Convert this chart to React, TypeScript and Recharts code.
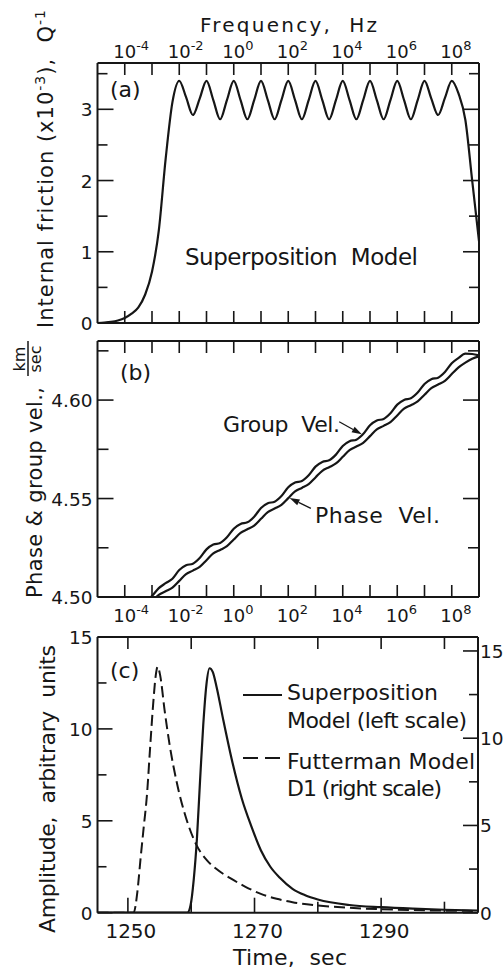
import React from 'react';
import { LineChart, Line, XAxis, YAxis, ReferenceLine } from 'recharts';

const FONT = '"DejaVu Sans", "Liberation Sans", sans-serif';
const INK = '#161616';

// (a) internal friction vs log10(frequency / Hz)
const qLogFreq = [
  -5, -4.75, -4.5, -4.25, -4, -3.75, -3.5, -3.25, -3, -2.75, -2.5, -2.25, -2, -1.75, -1.5, -1.25,
  -1, -0.75, -0.5, -0.25, 0, 0.25, 0.5, 0.75, 1, 1.25, 1.5, 1.75, 2, 2.25, 2.5, 2.75, 3, 3.25,
  3.5, 3.75, 4, 4.25, 4.5, 4.75, 5, 5.25, 5.5, 5.75, 6, 6.25, 6.5, 6.75, 7, 7.25, 7.5, 7.75, 8,
  8.25, 8.5, 8.75, 9,
];
const qFriction = [
  0, 0.005, 0.015, 0.035, 0.07, 0.13, 0.22, 0.4, 0.72, 1.3, 2.3, 3.1, 3.4, 3.17, 2.92, 3.15,
  3.4, 3.13, 2.86, 3.13, 3.4, 3.13, 2.86, 3.13, 3.4, 3.13, 2.86, 3.13, 3.4, 3.13, 2.86, 3.13, 3.4, 3.13,
  2.86, 3.13, 3.4, 3.13, 2.86, 3.13, 3.4, 3.13, 2.86, 3.13, 3.4, 3.13, 2.86, 3.13, 3.4, 3.15, 2.92, 3.16, 3.4,
  3.22, 2.85, 2.0, 1.15,
];

// (b) phase and group velocity, km/sec
const velLogFreq = [
  -3.5, -3.25, -3, -2.75, -2.5, -2.25, -2, -1.75, -1.5, -1.25, -1, -0.75, -0.5, -0.25, 0, 0.25,
  0.5, 0.75, 1, 1.25, 1.5, 1.75, 2, 2.25, 2.5, 2.75, 3, 3.25, 3.5, 3.75, 4, 4.25, 4.5, 4.75, 5,
  5.25, 5.5, 5.75, 6, 6.25, 6.5, 6.75, 7, 7.25, 7.5, 7.75, 8, 8.25, 8.5, 8.75, 9,
];
const phaseVel = [
  4.4924, 4.495, 4.498, 4.5011, 4.5029, 4.5048, 4.5082, 4.5116, 4.5134, 4.5153, 4.5187, 4.5221,
  4.5239, 4.5258, 4.5292, 4.5326, 4.5344, 4.5363, 4.5397, 4.5431, 4.5449, 4.5468, 4.5502, 4.5536,
  4.5554, 4.5573, 4.5607, 4.5641, 4.5659, 4.5678, 4.5712, 4.5746, 4.5764, 4.5783, 4.5817, 4.5851,
  4.5869, 4.5888, 4.5922, 4.5956, 4.5974, 4.5993, 4.6027, 4.6061, 4.6079, 4.6098, 4.6132, 4.6166,
  4.619, 4.621, 4.6222,
];
const groupVel = [
  4.495, 4.4975, 4.5005, 4.5045, 4.507, 4.5093, 4.5137, 4.5161, 4.5169, 4.5198, 4.5242, 4.5266,
  4.5274, 4.5303, 4.5347, 4.5371, 4.5379, 4.5408, 4.5452, 4.5476, 4.5484, 4.5513, 4.5557, 4.5581,
  4.5589, 4.5618, 4.5662, 4.5686, 4.5694, 4.5723, 4.5767, 4.5791, 4.5799, 4.5828, 4.5872, 4.5896,
  4.5904, 4.5933, 4.5977, 4.6001, 4.6009, 4.6038, 4.6082, 4.6106, 4.6114, 4.6143, 4.6187, 4.6214,
  4.6236, 4.6234, 4.6227,
];

// (c) pulses, time in sec
const superTime = [
  1245.2, 1259.4, 1259.9, 1260.4, 1260.9, 1261.4, 1261.9, 1262.4, 1262.9, 1263.4, 1264, 1265,
  1266.5, 1268, 1269.5, 1271, 1272.5, 1274, 1276, 1278, 1280, 1285, 1290, 1295, 1300, 1305.3,
];
const superAmp = [
  0, 0, 0.4, 1.8, 4.0, 7.2, 10.2, 12.4, 13.3, 13.1, 12.3, 10.6,
  8.2, 6.2, 4.7, 3.4, 2.5, 1.9, 1.3, 0.95, 0.72, 0.42, 0.3, 0.22, 0.16, 0.12,
];
const futtTime = [
  1245.2, 1250.9, 1251.5, 1252, 1252.5, 1253, 1253.5, 1254, 1254.4, 1254.7, 1255.1, 1255.8,
  1256.6, 1257.7, 1259.3, 1260.8, 1262.5, 1264, 1266.3, 1268.5, 1271, 1273.5, 1276, 1280, 1285,
  1290, 1295, 1300, 1305.3,
];
const futtAmp = [
  0, 0, 1.2, 3.1, 4.9, 6.7, 9.4, 12.0, 13.6, 14.1, 13.6, 11.6,
  9.6, 7.5, 5.3, 3.9, 3.0, 2.5, 1.95, 1.5, 1.08, 0.8, 0.6, 0.42, 0.28,
  0.2, 0.15, 0.12, 0.1,
];

const decadeTicks = [-4, -3, -2, -1, 0, 1, 2, 3, 4, 5, 6, 7, 8];
const decadeLabels = [-4, -2, 0, 2, 4, 6, 8];
const qTicks = [0, 0.5, 1, 1.5, 2, 2.5, 3, 3.5];
const qLabels = [0, 1, 2, 3];
const velTicks = [4.5, 4.525, 4.55, 4.575, 4.6, 4.625];
const velLabels = [4.5, 4.55, 4.6];
const timeTicks = [1250, 1260, 1270, 1280, 1290, 1300];
const timeLabels = [1250, 1270, 1290];
const ampTicks = [0, 2.5, 5, 7.5, 10, 12.5, 15];
const ampLabels = [0, 5, 10, 15];

const frictionData = qLogFreq.map((f, i) => ({ f, q: qFriction[i] }));
const velData = velLogFreq.map((f, i) => ({ f, phase: phaseVel[i], group: groupVel[i] }));
const superData = superTime.map((t, i) => ({ t, a: superAmp[i] }));
const futtData = futtTime.map((t, i) => ({ t, a: futtAmp[i] }));

type Side = 'top' | 'bottom' | 'left' | 'right';
const has = (list: number[], v: number) => list.some((l) => Math.abs(l - v) < 1e-6);

const makeTick =
  (side: Side, len: (v: number) => number, labels: number[], label?: (v: number, x: number, y: number) => React.ReactNode) =>
  (props: any) => {
    const { x, y, payload } = props;
    const v = payload.value;
    const L = len(v);
    let x2 = x;
    let y2 = y;
    if (side === 'top') y2 = y + L;
    if (side === 'bottom') y2 = y - L;
    if (side === 'left') x2 = x + L;
    if (side === 'right') x2 = x - L;
    return (
      <g>
        <line x1={x} y1={y} x2={x2} y2={y2} stroke={INK} strokeWidth={1.6} />
        {label && has(labels, v) ? label(v, x, y) : null}
      </g>
    );
  };

const decadeText = (dy: number) => (v: number, x: number, y: number) => (
  <text x={x - 11.5} y={y + dy} fontSize={18} fontFamily={FONT} fill={INK}>
    10
    <tspan dy={-8} fontSize={13}>
      {v}
    </tspan>
  </text>
);

const leftText = (fmt: (v: number) => string) => (v: number, x: number, y: number) => (
  <text x={x - 5} y={y + 7} textAnchor="end" fontSize={18.5} fontFamily={FONT} fill={INK}>
    {fmt(v)}
  </text>
);

const rightText = (v: number, x: number, y: number) => (
  <text x={x + 2} y={y + 7} textAnchor="start" fontSize={18.5} fontFamily={FONT} fill={INK}>
    {v}
  </text>
);

const timeText = (v: number, x: number, y: number) => (
  <text x={x + 3} y={y + 25} textAnchor="middle" fontSize={20} fontFamily={FONT} fill={INK}>
    {v}
  </text>
);

const frame = { stroke: INK, strokeWidth: 2 };
const decLen = () => 12;
const halfLen = (v: number) => (Math.abs(v - Math.round(v)) < 1e-6 ? 16 : 10);
const velLen = (v: number) => (has(velLabels, v) ? 16 : 11);
const ampLen = (v: number) => (v % 5 === 0 ? 15 : 9);

const Arrow = (props: any) => {
  const { x1, y1, x2, y2 } = props;
  const ang = Math.atan2(y2 - y1, x2 - x1);
  const L = 10;
  const W = 3.2;
  const bx = x2 - L * Math.cos(ang);
  const by = y2 - L * Math.sin(ang);
  const px = -Math.sin(ang) * W;
  const py = Math.cos(ang) * W;
  return (
    <g>
      <line x1={x1} y1={y1} x2={bx} y2={by} stroke={INK} strokeWidth={1.3} />
      <polygon points={`${x2},${y2} ${bx + px},${by + py} ${bx - px},${by - py}`} fill={INK} />
    </g>
  );
};

// axes get 1px of room each (an axis with zero size is not drawn), margins take the rest
const axisCommon = {
  allowDataOverflow: true,
  interval: 0 as const,
  tickSize: 0,
  tickMargin: 0,
  tickLine: false,
  axisLine: frame,
};

function PanelA() {
  return (
    <LineChart width={504} height={340} data={frictionData} margin={{ top: 62, right: 24, bottom: 16, left: 96.5 }}>
      <XAxis xAxisId="b" dataKey="f" type="number" domain={[-5, 9]} ticks={decadeTicks} height={1} {...axisCommon}
        tick={makeTick('bottom', decLen, [])} />
      <XAxis xAxisId="t" dataKey="f" type="number" orientation="top" domain={[-5, 9]} ticks={decadeTicks} height={1} {...axisCommon}
        tick={makeTick('top', decLen, decadeLabels, decadeText(-5))} />
      <YAxis yAxisId="l" type="number" domain={[0, 3.65]} ticks={qTicks} width={1} {...axisCommon}
        tick={makeTick('left', halfLen, qLabels, leftText((v) => String(v)))} />
      <YAxis yAxisId="r" type="number" orientation="right" domain={[0, 3.65]} ticks={qTicks} width={1} {...axisCommon}
        tick={makeTick('right', halfLen, [])} />
      <Line xAxisId="b" yAxisId="l" dataKey="q" type="monotone" dot={false} stroke={INK} strokeWidth={2.2} isAnimationActive={false} />
    </LineChart>
  );
}

function PanelB() {
  return (
    <LineChart width={504} height={300} data={velData} margin={{ top: 10, right: 24, bottom: 32, left: 96.5 }}>
      <XAxis xAxisId="b" dataKey="f" type="number" domain={[-5, 9]} ticks={decadeTicks} height={1} {...axisCommon}
        tick={makeTick('bottom', decLen, decadeLabels, decadeText(25))} />
      <XAxis xAxisId="t" dataKey="f" type="number" orientation="top" domain={[-5, 9]} ticks={decadeTicks} height={1} {...axisCommon}
        tick={makeTick('top', decLen, [])} />
      <YAxis yAxisId="l" type="number" domain={[4.5, 4.63]} ticks={velTicks} width={1} {...axisCommon}
        tick={makeTick('left', velLen, velLabels, leftText((v) => v.toFixed(2)))} />
      <YAxis yAxisId="r" type="number" orientation="right" domain={[4.5, 4.63]} ticks={velTicks} width={1} {...axisCommon}
        tick={makeTick('right', velLen, [])} />
      <Line xAxisId="b" yAxisId="l" dataKey="group" type="monotone" dot={false} stroke={INK} strokeWidth={2.2} isAnimationActive={false} />
      <Line xAxisId="b" yAxisId="l" dataKey="phase" type="monotone" dot={false} stroke={INK} strokeWidth={2.2} isAnimationActive={false} />
      <ReferenceLine xAxisId="b" yAxisId="l" ifOverflow="visible" segment={[{ x: 3.87, y: 4.589 }, { x: 4.7, y: 4.5826 }]} shape={Arrow} />
      <ReferenceLine xAxisId="b" yAxisId="l" ifOverflow="visible" segment={[{ x: 2.83, y: 4.545 }, { x: 2.05, y: 4.5503 }]} shape={Arrow} />
    </LineChart>
  );
}

function PanelC() {
  return (
    <LineChart width={504} height={352} margin={{ top: 16, right: 25, bottom: 58.3, left: 96.5 }}>
      <XAxis xAxisId="b" dataKey="t" type="number" domain={[1245.2, 1305.3]} ticks={timeTicks} height={1} {...axisCommon}
        tick={makeTick('bottom', (v) => (has(timeLabels, v) ? 15 : 11), timeLabels, timeText)} />
      <XAxis xAxisId="t" dataKey="t" type="number" orientation="top" domain={[1245.2, 1305.3]} ticks={timeTicks} height={1} {...axisCommon}
        tick={makeTick('top', () => 12, [])} />
      <YAxis yAxisId="l" type="number" domain={[0, 15]} ticks={ampTicks} width={1} {...axisCommon}
        tick={makeTick('left', ampLen, ampLabels, leftText((v) => String(v)))} />
      <YAxis yAxisId="r" type="number" orientation="right" domain={[0, 15.8]} ticks={ampTicks} width={1} {...axisCommon}
        tick={makeTick('right', ampLen, ampLabels, rightText)} />
      <Line xAxisId="b" yAxisId="l" data={superData} dataKey="a" type="monotone" dot={false} stroke={INK} strokeWidth={2.2} isAnimationActive={false} />
      <Line xAxisId="b" yAxisId="r" data={futtData} dataKey="a" type="monotone" dot={false} stroke={INK} strokeWidth={2} strokeDasharray="11 5" isAnimationActive={false} />
    </LineChart>
  );
}

const T = (p: any) => <text fontFamily={FONT} fill={INK} style={{ whiteSpace: 'pre' }} {...p} />;

function Overlay() {
  return (
    <svg width={504} height={972} style={{ position: 'absolute', left: 0, top: 0, pointerEvents: 'none' }}>
      <T x={200} y={32} fontSize={20} textLength={177}>Frequency,  Hz</T>
      <T x={110} y={97} fontSize={22}>(a)</T>
      <T x={185} y={265} fontSize={23} textLength={233}>Superposition  Model</T>
      <T x={120} y={380} fontSize={22}>(b)</T>
      <T x={223} y={432} fontSize={22} textLength={117}>Group  Vel.</T>
      <T x={315} y={523} fontSize={22} textLength={125}>Phase  Vel.</T>
      <T x={110} y={678} fontSize={22}>(c)</T>

      <line x1={243} y1={695} x2={282} y2={695} stroke={INK} strokeWidth={2} />
      <T x={287} y={700} fontSize={22} textLength={151}>Superposition</T>
      <T x={287} y={728} fontSize={22} textLength={180}>Model (left scale)</T>
      <line x1={243} y1={758} x2={282} y2={758} stroke={INK} strokeWidth={2} strokeDasharray="15 7" />
      <T x={287} y={769} fontSize={22} textLength={188}>Futterman Model</T>
      <T x={287} y={796} fontSize={22} textLength={155}>D1 (right scale)</T>

      <T x={233} y={965} fontSize={22} textLength={114}>Time,  sec</T>

      <g transform="translate(53, 328) rotate(-90)">
        <T x={0} y={0} fontSize={21} textLength={318}>
          Internal friction (x10<tspan dy={-8} fontSize={14}>-3</tspan>
          <tspan dy={8}>),  Q</tspan>
          <tspan dy={-8} fontSize={14}>-1</tspan>
        </T>
      </g>
      <g transform="translate(42, 598) rotate(-90)">
        <T x={0} y={0} fontSize={21} textLength={211}>Phase &amp; group vel.,</T>
        <T x={239} y={-17} fontSize={16} textAnchor="middle">km</T>
        <line x1={222} y1={-14} x2={257} y2={-14} stroke={INK} strokeWidth={1.5} />
        <T x={239} y={-1} fontSize={16} textAnchor="middle">sec</T>
      </g>
      <g transform="translate(55, 933) rotate(-90)">
        <T x={0} y={0} fontSize={22} textLength={288}>Amplitude,  arbitrary  units</T>
      </g>
    </svg>
  );
}

export default function App() {
  return (
    <div style={{ position: 'absolute', left: 0, top: 0, width: 504, height: 972, background: '#fff' }}>
      <div style={{ position: 'absolute', left: 0, top: 0 }}>
        <PanelA />
      </div>
      <div style={{ position: 'absolute', left: 0, top: 330 }}>
        <PanelB />
      </div>
      <div style={{ position: 'absolute', left: 0, top: 620 }}>
        <PanelC />
      </div>
      <Overlay />
    </div>
  );
}
